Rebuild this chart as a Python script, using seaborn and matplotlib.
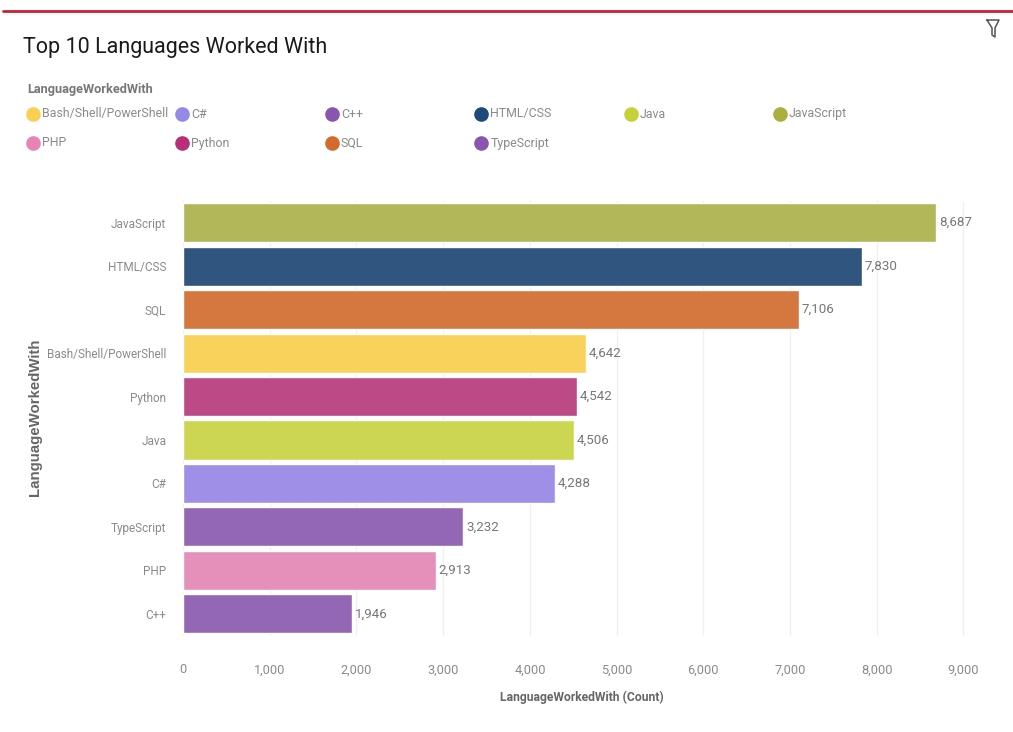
"""Top 10 languages bar chart, dashboard style."""

import matplotlib

matplotlib.use("Agg")
import matplotlib.pyplot as plt
import pandas as pd
import seaborn as sns
from matplotlib.lines import Line2D
from matplotlib.ticker import StrMethodFormatter

languages = ["JavaScript", "HTML/CSS", "SQL", "Bash/Shell/PowerShell", "Python",
             "Java", "C#", "TypeScript", "PHP", "C++"]
counts = [8687, 7830, 7106, 4642, 4542, 4506, 4288, 3232, 2913, 1946]
bar_colors = ["#b2b85a", "#30557f", "#d5783f", "#f9d25c", "#bb4a87",
              "#ccd653", "#9f8fe6", "#9367b3", "#e58fbb", "#9367b3"]

legend_labels = ["Bash/Shell/PowerShell", "C#", "C++", "HTML/CSS", "Java", "JavaScript",
                 "PHP", "Python", "SQL", "TypeScript"]
legend_colors = ["#fbd050", "#9488e8", "#8855b0", "#1d4a7a", "#c6d13a", "#a9b040",
                 "#e884b5", "#b82e78", "#d26a2c", "#8a55b0"]

W, H = 1013, 732
TEXT = "#8a8a8a"

sns.set_theme(style="white")
plt.rcParams["font.family"] = ["Roboto", "DejaVu Sans"]

fig = plt.figure(figsize=(W / 100, H / 100), dpi=100, facecolor="white")
ax = fig.add_axes([183 / W, 1 - 635.5 / H, (990 - 183) / W, (635.5 - 201) / H])

df = pd.DataFrame({"language": languages, "count": counts})
sns.barplot(data=df, x="count", y="language", hue="language", palette=bar_colors,
            saturation=1, width=0.9, legend=False, ax=ax)

for container in ax.containers:
    ax.bar_label(container, fmt="{:,.0f}", padding=2, fontsize=9.6, color="#777777")

ax.set_xlim(0, 807 / 86.72 * 1000)
ax.set_xticks(range(0, 10000, 1000))
ax.xaxis.set_major_formatter(StrMethodFormatter("{x:,.0f}"))
ax.tick_params(axis="x", length=0, pad=20, labelsize=9.2, labelcolor=TEXT)
ax.tick_params(axis="y", length=0, pad=12, labelsize=8.5, labelcolor=TEXT)
ax.grid(axis="x", color="#f0f0f0", linewidth=1)
ax.set_axisbelow(True)
for side in ["top", "right", "bottom", "left"]:
    ax.spines[side].set_visible(False)

ax.set_xlabel("")
ax.set_ylabel("")
fig.text(582 / W, 1 - 697 / H, "LanguageWorkedWith (Count)", ha="center", va="center",
         fontsize=8.7, fontweight="bold", color="#666666")
fig.text(35 / W, 1 - 417 / H, "LanguageWorkedWith", ha="center", va="center", rotation=90,
         fontsize=10.8, fontweight="bold", color="#666666", family=["Liberation Sans", "DejaVu Sans"])

fig.text(23 / W, 1 - 48 / H, "Top 10 Languages Worked With", ha="left", va="center",
         fontsize=15.5, color="#1a1a1a")
fig.text(27 / W, 1 - 89 / H, "LanguageWorkedWith", ha="left", va="center",
         fontsize=9.2, fontweight="bold", color="#777777")

# legend laid out by hand, the columns are a fixed width in the original
for i, (label, color) in enumerate(zip(legend_labels, legend_colors)):
    col, row = i % 6, i // 6
    x = 33 + col * 149.4
    y = 114 + row * 29
    fig.add_artist(Line2D([x / W], [1 - y / H], marker="o", markersize=9.5, color=color,
                          linestyle="none", transform=fig.transFigure))
    fig.text((x + 9) / W, 1 - y / H, label, ha="left", va="center", fontsize=8.9, color=TEXT)

# red rule at the top of the panel
fig.add_artist(Line2D([3 / W, 1], [1 - 11 / H, 1 - 11 / H], color="#c8202e", linewidth=2,
                      transform=fig.transFigure))

# filter icon
icon_x = [987, 999, 995, 995, 992, 992, 987]
icon_y = [20, 20, 28, 37, 35, 28, 20]
fig.add_artist(Line2D([v / W for v in icon_x], [1 - v / H for v in icon_y], color="#555555",
                      linewidth=1.1, transform=fig.transFigure))

fig.savefig("out.png", dpi=100)
plt.close(fig)
